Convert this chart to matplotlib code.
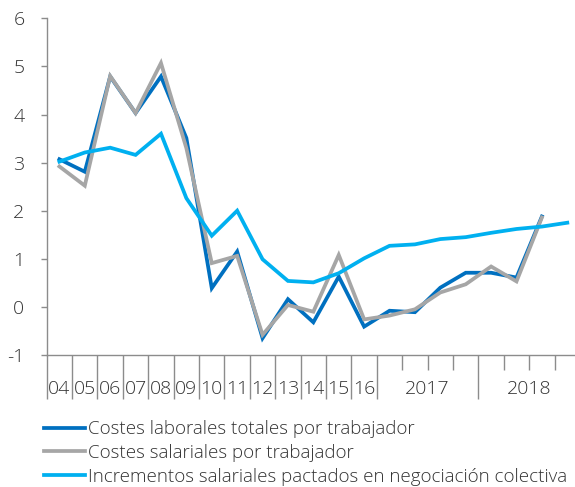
import numpy as np
import matplotlib.pyplot as plt
from matplotlib.lines import Line2D
from matplotlib.transforms import blended_transform_factory

plt.rcParams['font.family'] = ['Open Sans', 'DejaVu Sans']
plt.rcParams['font.weight'] = 300
plt.rcParams['axes.unicode_minus'] = False

# --- data ---
year_labels = ['04', '05', '06', '07', '08', '09', '10', '11', '12', '13', '14', '15', '16']
group_labels = ['2017', '2018']
quarters_per_group = 4

costes_laborales = [3.07, 2.81, 4.79, 4.03, 4.79, 3.51, 0.39, 1.15, -0.65, 0.16, -0.32, 0.63, -0.41,
                    -0.08, -0.11, 0.40, 0.71, 0.71, 0.61, 1.88]
costes_salariales = [2.92, 2.52, 4.80, 4.03, 5.07, 3.30, 0.91, 1.06, -0.58, 0.04, -0.10, 1.08, -0.26,
                     -0.18, -0.05, 0.30, 0.47, 0.84, 0.53, 1.86]
incrementos = [3.02, 3.21, 3.31, 3.16, 3.60, 2.26, 1.48, 2.00, 0.99, 0.54, 0.51, 0.70, 1.01,
               1.27, 1.30, 1.41, 1.45, 1.54, 1.62, 1.67, 1.75]

series_names = ['Costes laborales totales por trabajador',
                'Costes salariales por trabajador',
                'Incrementos salariales pactados en negociación colectiva']
colors = ['#0070C0', '#A6A6A6', '#00B0F0']

n_years = len(year_labels)
n_cat = n_years + quarters_per_group * len(group_labels)

fig = plt.figure(figsize=(5.75, 4.87), dpi=100)
ax = fig.add_axes([46.7 / 575, 1 - 355 / 487, (580 - 46.7) / 575, (355 - 18.3) / 487])

for vals, c in zip([costes_laborales, costes_salariales, incrementos], colors):
    ax.plot(np.arange(len(vals)), vals, color=c, lw=2.7, solid_joinstyle='miter')

ax.set_xlim(-0.5, n_cat - 0.5)
ax.set_ylim(-1, 6)
ax.set_yticks(range(-1, 7))

for s in ['top', 'right']:
    ax.spines[s].set_visible(False)
for s in ['left', 'bottom']:
    ax.spines[s].set_color('#8c8c8c')
    ax.spines[s].set_linewidth(1.0)

ax.tick_params(axis='y', direction='out', length=4, width=1, color='#8c8c8c',
               labelsize=14, labelcolor='#333333', pad=12)

# long ticks: year boundaries and group separators; short ticks: quarters
long_ticks = [i - 0.5 for i in range(n_years + 1)]
short_ticks = []
for g in range(len(group_labels)):
    start = n_years + g * quarters_per_group - 0.5
    short_ticks += [start + q for q in range(1, quarters_per_group)]
    long_ticks.append(start + quarters_per_group)
ax.set_xticks(long_ticks)
ax.set_xticks(short_ticks, minor=True)
ax.set_xticklabels([])
ax.tick_params(axis='x', which='major', direction='out', length=32, width=1, color='#8c8c8c')
ax.tick_params(axis='x', which='minor', direction='out', length=11, width=1, color='#8c8c8c')

tr = blended_transform_factory(ax.transData, ax.transAxes)
for i, lab in enumerate(year_labels):
    ax.text(i, -0.1, lab, transform=tr, ha='center', va='center', fontsize=14, color='#333333')
for g, lab in enumerate(group_labels):
    center = n_years + g * quarters_per_group + (quarters_per_group - 1) / 2
    ax.text(center, -0.1, lab, transform=tr, ha='center', va='center', fontsize=14, color='#333333')

handles = [Line2D([], [], color=c, lw=2.7) for c in colors]
fig.legend(handles, series_names, loc='upper left', bbox_to_anchor=(0.06, 0.156),
           frameon=False, fontsize=13.5, handlelength=2.2, handletextpad=0.15,
           labelspacing=0.3, borderpad=0, labelcolor='#333333')

fig.savefig('out.png', dpi=100)
